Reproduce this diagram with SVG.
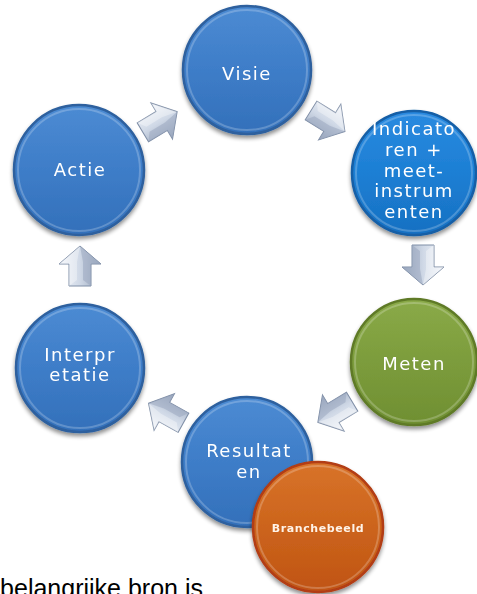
<svg xmlns="http://www.w3.org/2000/svg" width="477" height="594" viewBox="0 0 477 594">
<defs>
  <linearGradient id="gBlue" x1="0" y1="0" x2="0" y2="1">
    <stop offset="0" stop-color="#4c8bd3"/>
    <stop offset="0.5" stop-color="#3e7dc8"/>
    <stop offset="1" stop-color="#3370ba"/>
  </linearGradient>
  <linearGradient id="gBright" x1="0" y1="0" x2="0" y2="1">
    <stop offset="0" stop-color="#2a8ae0"/>
    <stop offset="0.5" stop-color="#1d7fd4"/>
    <stop offset="1" stop-color="#1670c2"/>
  </linearGradient>
  <linearGradient id="gGreen" x1="0" y1="0" x2="0" y2="1">
    <stop offset="0" stop-color="#8aaa48"/>
    <stop offset="0.5" stop-color="#7c9c3c"/>
    <stop offset="1" stop-color="#6f8f32"/>
  </linearGradient>
  <linearGradient id="gOrange" x1="0" y1="0" x2="0" y2="1">
    <stop offset="0" stop-color="#d8732a"/>
    <stop offset="0.5" stop-color="#cc641c"/>
    <stop offset="1" stop-color="#c05414"/>
  </linearGradient>
  <linearGradient id="gArrow" x1="0" y1="0" x2="1" y2="0">
    <stop offset="0" stop-color="#f2f5fa"/>
    <stop offset="0.5" stop-color="#cfd8e6"/>
    <stop offset="1" stop-color="#98a6bc"/>
  </linearGradient>
  <filter id="sh" x="-20%" y="-20%" width="140%" height="140%">
    <feGaussianBlur in="SourceAlpha" stdDeviation="2"/>
    <feOffset dx="0" dy="3" result="b"/>
    <feComponentTransfer><feFuncA type="linear" slope="0.45"/></feComponentTransfer>
    <feMerge><feMergeNode/><feMergeNode in="SourceGraphic"/></feMerge>
  </filter>
  <g id="arrow">
    <path d="M0,-20 L21,-2 L11,-2 L11,20 L-11,20 L-11,-2 L-21,-2 Z" fill="url(#gArrow)" stroke="#7f8ea6" stroke-width="1"/>
    <path d="M0,-20 L21,-2 L11,-2 L11,20 L3,14 L3,-4 Z" fill="#9aa8bf" opacity="0.55"/>
    <path d="M0,-20 L-21,-2 L-11,-2 L-11,20 L-3,14 L-3,-4 Z" fill="#ffffff" opacity="0.35"/>
  </g>
</defs>
<style>
  .rim { stroke-width: 2.5; }
  .bevel { fill: none; stroke: #ffffff; stroke-opacity: 0.22; stroke-width: 2; }
  .lbl { font-family: "DejaVu Sans", Verdana, sans-serif; font-size: 18px; fill: #ffffff; text-anchor: middle; letter-spacing: 1.5px; }
  .small { font-family: "DejaVu Sans", Verdana, sans-serif; font-size: 11px; font-weight: bold; fill: #fff3e8; text-anchor: middle; letter-spacing: 0.6px; }
</style>

<g id="connectors">
  <use href="#arrow" transform="translate(160,122) rotate(59)"/>
  <use href="#arrow" transform="translate(328,121) rotate(122)"/>
  <use href="#arrow" transform="translate(423,265) rotate(180)"/>
  <use href="#arrow" transform="translate(335,412) rotate(239)"/>
  <use href="#arrow" transform="translate(166,413) rotate(299)"/>
  <use href="#arrow" transform="translate(80,266)"/>
</g>

<g id="visie" filter="url(#sh)">
  <circle cx="247" cy="70" r="64" fill="url(#gBlue)" stroke="#2d609e" class="rim"/>
  <circle cx="247" cy="70" r="60" class="bevel"/>
  <text x="247" y="80" class="lbl">Visie</text>
</g>

<g id="indicatoren" filter="url(#sh)">
  <circle cx="414" cy="173" r="62" fill="url(#gBright)" stroke="#145ea6" class="rim"/>
  <circle cx="414" cy="173" r="58" class="bevel"/>
  <text class="lbl" x="414" y="135">Indicato</text>
  <text class="lbl" x="414" y="156">ren +</text>
  <text class="lbl" x="414" y="177">meet-</text>
  <text class="lbl" x="414" y="197">instrum</text>
  <text class="lbl" x="414" y="218">enten</text>
</g>

<g id="actie" filter="url(#sh)">
  <circle cx="79" cy="170" r="65" fill="url(#gBlue)" stroke="#2d609e" class="rim"/>
  <circle cx="79" cy="170" r="61" class="bevel"/>
  <text x="80" y="176" class="lbl">Actie</text>
</g>

<g id="interpretatie" filter="url(#sh)">
  <circle cx="80" cy="368" r="64" fill="url(#gBlue)" stroke="#2d609e" class="rim"/>
  <circle cx="80" cy="368" r="60" class="bevel"/>
  <text x="80" y="361" class="lbl">Interpr</text>
  <text x="80" y="381" class="lbl">etatie</text>
</g>

<g id="meten" filter="url(#sh)">
  <circle cx="414" cy="362" r="63" fill="url(#gGreen)" stroke="#5e7a28" class="rim"/>
  <circle cx="414" cy="362" r="59" class="bevel"/>
  <text x="414" y="370" class="lbl">Meten</text>
</g>

<g id="resultaten" filter="url(#sh)">
  <circle cx="247" cy="462" r="65" fill="url(#gBlue)" stroke="#2d609e" class="rim"/>
  <circle cx="247" cy="462" r="61" class="bevel"/>
  <text x="249" y="457" class="lbl">Resultat</text>
  <text x="249" y="478" class="lbl">en</text>
</g>

<g id="branchebeeld" filter="url(#sh)">
  <circle cx="318" cy="527" r="65" fill="url(#gOrange)" stroke="#b23c12" class="rim"/>
  <circle cx="318" cy="527" r="61" class="bevel"/>
  <text x="318" y="532" class="small">Branchebeeld</text>
</g>

<text x="203" y="597" font-family="'Liberation Sans', Arial, sans-serif" font-size="25" fill="#000000" text-anchor="end">belangrijke bron is</text>
</svg>
